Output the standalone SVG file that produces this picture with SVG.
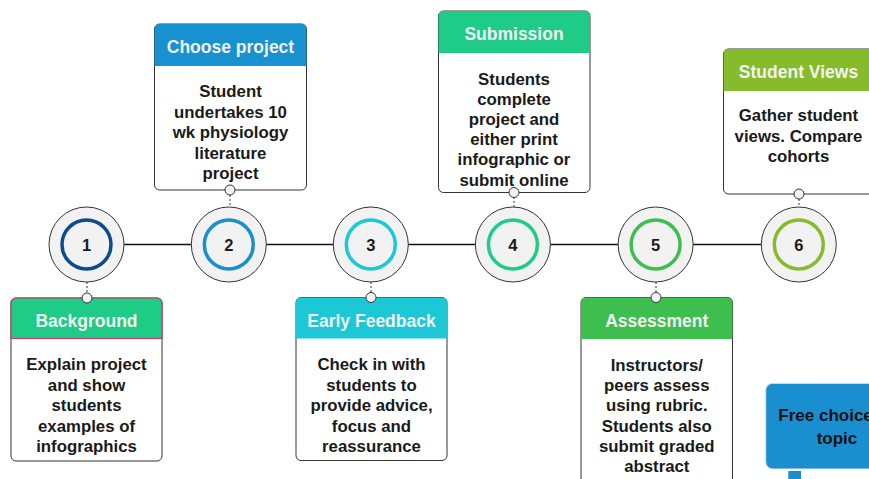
<svg xmlns="http://www.w3.org/2000/svg" width="869" height="479" viewBox="0 0 869 479">
<style>
.hd{font-family:"Liberation Sans",Arial,sans-serif;font-weight:bold;font-size:17.5px;fill:#F2F2F2;text-anchor:middle}
.bd{font-family:"Liberation Sans",Arial,sans-serif;font-weight:bold;font-size:16.8px;fill:#1a1a1a;text-anchor:middle}
.num{font-family:"Liberation Sans",Arial,sans-serif;font-weight:bold;font-size:16.5px;fill:#1a1a1a;text-anchor:middle}
.body{fill:#ffffff;stroke:#333333;stroke-width:1}
.outer{fill:#F2F2F2;stroke:#333333;stroke-width:1}
.ring{fill:none;stroke-width:3.5}
.dot{fill:#F2F2F2;stroke:#333333;stroke-width:1}
.dash{stroke:#333333;stroke-width:1;stroke-dasharray:2 2}
</style>
<rect width="869" height="479" fill="#ffffff"/>
<g id="connectors">
<line x1="124" y1="244.5" x2="761" y2="244.5" stroke="#111" stroke-width="1.3"/>
<line class="dash" x1="87" y1="282" x2="87" y2="293"/>
<line class="dash" x1="230" y1="195" x2="230" y2="207"/>
<line class="dash" x1="371" y1="282" x2="371" y2="292"/>
<line class="dash" x1="514" y1="197" x2="514" y2="207"/>
<line class="dash" x1="656" y1="282" x2="656" y2="292"/>
<line class="dash" x1="799" y1="199" x2="799" y2="207"/>
</g>
<g id="step1"><circle class="outer" cx="86.5" cy="244.5" r="37.5"/><circle class="ring" cx="86.5" cy="244.5" r="24.5" stroke="#0D4A8F"/><text class="num" x="86.5" y="250.5">1</text></g>
<g id="step2"><circle class="outer" cx="228.8" cy="244.5" r="37.5"/><circle class="ring" cx="228.8" cy="244.5" r="24.5" stroke="#1A8FD0"/><text class="num" x="228.8" y="250.5">2</text></g>
<g id="step3"><circle class="outer" cx="370.8" cy="244.5" r="37.5"/><circle class="ring" cx="370.8" cy="244.5" r="24.5" stroke="#1DC8D6"/><text class="num" x="370.8" y="250.5">3</text></g>
<g id="step4"><circle class="outer" cx="512.9" cy="244.5" r="37.5"/><circle class="ring" cx="512.9" cy="244.5" r="24.5" stroke="#1ECC88"/><text class="num" x="512.9" y="250.5">4</text></g>
<g id="step5"><circle class="outer" cx="655.6" cy="244.5" r="37.5"/><circle class="ring" cx="655.6" cy="244.5" r="24.5" stroke="#3DBE4F"/><text class="num" x="655.6" y="250.5">5</text></g>
<g id="step6"><circle class="outer" cx="798.8" cy="244.5" r="37.5"/><circle class="ring" cx="798.8" cy="244.5" r="24.5" stroke="#86BC2B"/><text class="num" x="798.8" y="250.5">6</text></g>

<g id="background">
<rect class="body" x="11" y="298" width="151" height="163" rx="5"/>
<path d="M11,338.5 V303 a5,5 0 0 1 5,-5 H157 a5,5 0 0 1 5,5 V338.5 Z" fill="#1ECC88" stroke="#D0375C" stroke-width="1.2"/>
<text class="hd" x="86.5" y="327.3">Background</text>
<text class="bd" x="86.5" y="370">Explain project</text>
<text class="bd" x="86.5" y="390.5">and show</text>
<text class="bd" x="86.5" y="411">students</text>
<text class="bd" x="86.5" y="431.5">examples of</text>
<text class="bd" x="86.5" y="452">infographics</text>
<circle class="dot" cx="87" cy="298" r="5"/>
</g>

<g id="choose-project">
<rect class="body" x="154.5" y="24" width="152" height="166" rx="5"/>
<path d="M154.5,66 V29 a5,5 0 0 1 5,-5 H301.5 a5,5 0 0 1 5,5 V66 Z" fill="#1791D0"/>
<text class="hd" x="230.5" y="53">Choose project</text>
<text class="bd" x="230.5" y="97">Student</text>
<text class="bd" x="230.5" y="117.5">undertakes 10</text>
<text class="bd" x="230.5" y="138">wk physiology</text>
<text class="bd" x="230.5" y="158.5">literature</text>
<text class="bd" x="230.5" y="179">project</text>
<circle class="dot" cx="230" cy="190" r="5"/>
</g>

<g id="early-feedback">
<rect class="body" x="296" y="297.5" width="151" height="163" rx="5"/>
<path d="M296,338.5 V302.5 a5,5 0 0 1 5,-5 H442 a5,5 0 0 1 5,5 V338.5 Z" fill="#1DC8D6"/>
<text class="hd" x="371.5" y="327.3">Early Feedback</text>
<text class="bd" x="371.5" y="370">Check in with</text>
<text class="bd" x="371.5" y="390.5">students to</text>
<text class="bd" x="371.5" y="411">provide advice,</text>
<text class="bd" x="371.5" y="431.5">focus and</text>
<text class="bd" x="371.5" y="452">reassurance</text>
<circle class="dot" cx="371" cy="297.5" r="5"/>
</g>

<g id="submission">
<rect class="body" x="438.5" y="11" width="151.5" height="181.5" rx="5"/>
<path d="M438.5,53 V16 a5,5 0 0 1 5,-5 H585 a5,5 0 0 1 5,5 V53 Z" fill="#1ECC88"/>
<text class="hd" x="514" y="39.6">Submission</text>
<text class="bd" x="514" y="84.5">Students</text>
<text class="bd" x="514" y="104.7">complete</text>
<text class="bd" x="514" y="124.9">project and</text>
<text class="bd" x="514" y="145.1">either print</text>
<text class="bd" x="514" y="165.3">infographic or</text>
<text class="bd" x="514" y="185.5">submit online</text>
<circle class="dot" cx="514" cy="192.5" r="5"/>
</g>

<g id="assessment">
<rect class="body" x="581" y="297.5" width="151.5" height="195" rx="5"/>
<path d="M581,339 V302.5 a5,5 0 0 1 5,-5 H727.5 a5,5 0 0 1 5,5 V339 Z" fill="#3DBE4F"/>
<text class="hd" x="656.8" y="327.3">Assessment</text>
<text class="bd" x="656.8" y="371">Instructors/</text>
<text class="bd" x="656.8" y="391.2">peers assess</text>
<text class="bd" x="656.8" y="411.4">using rubric.</text>
<text class="bd" x="656.8" y="431.6">Students also</text>
<text class="bd" x="656.8" y="451.8">submit graded</text>
<text class="bd" x="656.8" y="472">abstract</text>
<circle class="dot" cx="656" cy="297.5" r="5"/>
</g>

<g id="student-views">
<rect class="body" x="723.5" y="49" width="151" height="145" rx="5"/>
<path d="M723.5,91 V54 a5,5 0 0 1 5,-5 H869.5 a5,5 0 0 1 5,5 V91 Z" fill="#86BC2B"/>
<text class="hd" x="798.5" y="77.9">Student Views</text>
<text class="bd" x="798.5" y="121">Gather student</text>
<text class="bd" x="798.5" y="141.5">views. Compare</text>
<text class="bd" x="798.5" y="162">cohorts</text>
<circle class="dot" cx="799" cy="194" r="5"/>
</g>

<g id="free-choice">
<rect x="765.7" y="383.3" width="130" height="85.7" rx="7" fill="#1A8FCF" stroke="#E6E6E6" stroke-width="1"/>
<text x="778.3" y="421" font-family="'Liberation Sans',Arial,sans-serif" font-weight="bold" font-size="17" fill="#111">Free choice</text>
<text x="837" y="444" text-anchor="middle" font-family="'Liberation Sans',Arial,sans-serif" font-weight="bold" font-size="17" fill="#111">topic</text>
<rect x="788.3" y="471" width="12.7" height="10" fill="#1A8FCF"/>
</g>
</svg>
